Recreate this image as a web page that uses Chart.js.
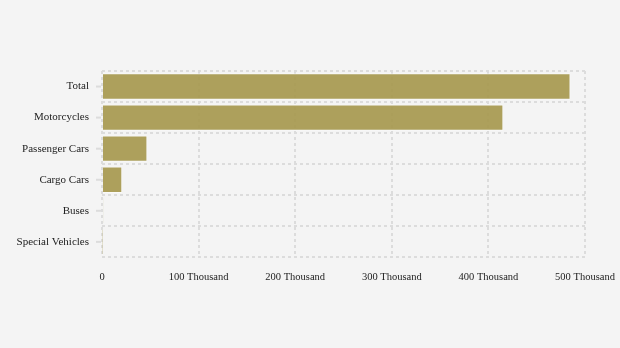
<!DOCTYPE html>
<html>
<head>
<meta charset="utf-8">
<script src="https://cdn.jsdelivr.net/npm/chart.js@4/dist/chart.umd.min.js"></script>
<style>
  html, body { margin: 0; padding: 0; background: #f4f4f4; }
  canvas { display: block; }
</style>
</head>
<body>
<canvas id="myChart" width="620" height="348"></canvas>
<script>
var categories = ["Total", "Motorcycles", "Passenger Cars", "Cargo Cars", "Buses", "Special Vehicles"];
var vehicles = [485000, 415500, 47000, 21000, 1400, 300];
var xTicks = [0, 100000, 200000, 300000, 400000, 500000];

var gridColor = '#dcdcdc';

// short tick marks next to each category label
var labelTicks = {
  id: 'labelTicks',
  afterDraw: function(chart) {
    var scale = chart.scales.y;
    var ctx = chart.ctx;
    ctx.save();
    ctx.strokeStyle = gridColor;
    ctx.lineWidth = 2;
    for (var i = 0; i < categories.length; i++) {
      var y = scale.getPixelForValue(i);
      ctx.beginPath();
      ctx.moveTo(scale.right - 6, y);
      ctx.lineTo(scale.right - 1, y);
      ctx.stroke();
    }
    ctx.restore();
  }
};

var ctx = document.getElementById('myChart').getContext('2d');

var myChart = new Chart(ctx, {
  type: 'bar',
  data: {
    labels: categories,
    datasets: [{
      label: 'Vehicles',
      data: vehicles,
      backgroundColor: 'rgba(165, 151, 75, 0.9)',
      borderColor: 'rgba(255, 255, 255, 0.55)',
      borderWidth: 1,
      barPercentage: 0.85,
      categoryPercentage: 1
    }]
  },
  options: {
    indexAxis: 'y',
    responsive: false,
    animation: false,
    layout: { padding: { top: 71, right: 35, bottom: 50, left: 0 } },
    plugins: {
      legend: { display: false },
      tooltip: { enabled: false }
    },
    scales: {
      x: {
        min: 0,
        max: 500000,
        afterBuildTicks: function(scale) {
          scale.ticks = xTicks.map(function(v) { return { value: v }; });
        },
        afterFit: function(scale) {
          scale.paddingLeft = 0;
          scale.paddingRight = 0;
        },
        grid: { color: gridColor, lineWidth: 2, drawTicks: false },
        border: { display: false, dash: [3, 3] },
        ticks: {
          padding: 14,
          color: '#222',
          font: { family: 'Liberation Serif', size: 10.5 },
          callback: function(value) {
            return value === 0 ? '0' : (value / 1000) + ' Thousand';
          }
        }
      },
      y: {
        afterFit: function(scale) { scale.width = 102; },
        grid: { color: gridColor, lineWidth: 2, drawTicks: false, offset: true },
        border: { display: false, dash: [3, 3] },
        ticks: {
          padding: 13,
          color: '#222',
          font: { family: 'Liberation Serif', size: 11 }
        }
      }
    }
  },
  plugins: [labelTicks]
});
</script>
</body>
</html>
